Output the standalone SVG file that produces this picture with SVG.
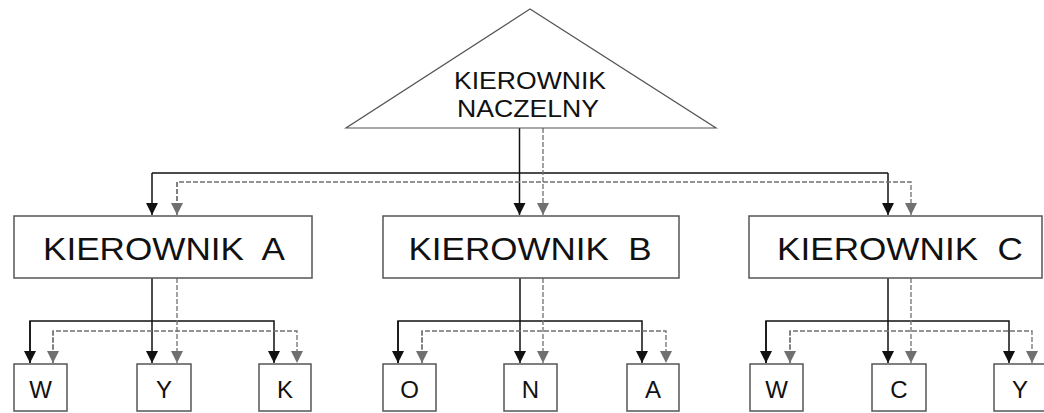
<svg xmlns="http://www.w3.org/2000/svg" width="1044" height="413" viewBox="0 0 1044 413">
  <style>
    .node { fill: #ffffff; stroke: #555555; stroke-width: 1.5; }
    .big { font-family: "Liberation Sans", Arial, sans-serif; font-size: 32px; fill: #111111; text-anchor: middle; white-space: pre; }
    .top { font-family: "Liberation Sans", Arial, sans-serif; font-size: 24px; fill: #111111; text-anchor: middle; }
    .small { font-family: "Liberation Sans", Arial, sans-serif; font-size: 24px; fill: #111111; text-anchor: middle; }
    .solid { fill: none; stroke: #111111; stroke-width: 1.5; }
    .dash { fill: none; stroke: #707070; stroke-width: 1.3; stroke-dasharray: 5 2; }
  </style>
  <defs>
    <marker id="arrowBlack" markerUnits="userSpaceOnUse" markerWidth="14" markerHeight="14" refX="12" refY="6" orient="auto">
      <path d="M0,0 L12,6 L0,12 Z" fill="#111111"/>
    </marker>
    <marker id="arrowGray" markerUnits="userSpaceOnUse" markerWidth="14" markerHeight="14" refX="12" refY="6" orient="auto">
      <path d="M0,0 L12,6 L0,12 Z" fill="#707070"/>
    </marker>
  </defs>

  <rect width="1044" height="413" fill="#ffffff"/>

  <!-- connectors -->
  <g id="connectors">
    <!-- top level: chief to managers -->
    <path class="solid" d="M519.5,128 V215" marker-end="url(#arrowBlack)"/>
    <path class="solid" d="M152,173 H888"/>
    <path class="solid" d="M152,173 V215" marker-end="url(#arrowBlack)"/>
    <path class="solid" d="M888,173 V215" marker-end="url(#arrowBlack)"/>
    <path class="dash" d="M543,128 V215" marker-end="url(#arrowGray)"/>
    <path class="dash" d="M177,215 V182 H911 V215" marker-end="url(#arrowGray)"/>
    <path class="dash" d="M177,182 V215" marker-end="url(#arrowGray)"/>

    <!-- manager A to W, Y, K -->
    <path class="solid" d="M152,278 V363" marker-end="url(#arrowBlack)"/>
    <path class="solid" d="M30,363 V321 H274 V363" marker-end="url(#arrowBlack)"/>
    <path class="solid" d="M30,321 V363" marker-end="url(#arrowBlack)"/>
    <path class="dash" d="M177,278 V363" marker-end="url(#arrowGray)"/>
    <path class="dash" d="M53,363 V331 H297 V363" marker-end="url(#arrowGray)"/>
    <path class="dash" d="M53,331 V363" marker-end="url(#arrowGray)"/>

    <!-- manager B to O, N, A -->
    <path class="solid" d="M520,278 V363" marker-end="url(#arrowBlack)"/>
    <path class="solid" d="M398,363 V321 H642 V363" marker-end="url(#arrowBlack)"/>
    <path class="solid" d="M398,321 V363" marker-end="url(#arrowBlack)"/>
    <path class="dash" d="M543,278 V363" marker-end="url(#arrowGray)"/>
    <path class="dash" d="M422,363 V331 H666 V363" marker-end="url(#arrowGray)"/>
    <path class="dash" d="M422,331 V363" marker-end="url(#arrowGray)"/>

    <!-- manager C to W, C, Y -->
    <path class="solid" d="M888,278 V363" marker-end="url(#arrowBlack)"/>
    <path class="solid" d="M766,363 V321 H1009 V363" marker-end="url(#arrowBlack)"/>
    <path class="solid" d="M766,321 V363" marker-end="url(#arrowBlack)"/>
    <path class="dash" d="M911,278 V363" marker-end="url(#arrowGray)"/>
    <path class="dash" d="M790,363 V331 H1032 V363" marker-end="url(#arrowGray)"/>
    <path class="dash" d="M790,331 V363" marker-end="url(#arrowGray)"/>
  </g>

  <!-- chief -->
  <g id="chief">
    <polygon points="530,9 346,128 716,128" fill="#ffffff" stroke="#555555" stroke-width="1.2"/>
    <text class="top" x="530" y="89" textLength="152" lengthAdjust="spacingAndGlyphs">KIEROWNIK</text>
    <text class="top" x="528" y="117" textLength="142" lengthAdjust="spacingAndGlyphs">NACZELNY</text>
  </g>

  <!-- managers -->
  <g id="manager-a">
    <rect class="node" x="14" y="216" width="298" height="62"/>
    <text class="big" x="164" y="260" xml:space="preserve" textLength="242" lengthAdjust="spacingAndGlyphs">KIEROWNIK  A</text>
  </g>
  <g id="manager-b">
    <rect class="node" x="383" y="216" width="296" height="62"/>
    <text class="big" x="530" y="260" xml:space="preserve" textLength="243" lengthAdjust="spacingAndGlyphs">KIEROWNIK  B</text>
  </g>
  <g id="manager-c">
    <rect class="node" x="749" y="216" width="293" height="62"/>
    <text class="big" x="900" y="260" xml:space="preserve" textLength="246" lengthAdjust="spacingAndGlyphs">KIEROWNIK  C</text>
  </g>

  <!-- team A -->
  <g id="a-w">
    <rect class="node" x="14" y="364" width="53" height="47"/>
    <text class="small" x="40.5" y="398">W</text>
  </g>
  <g id="a-y">
    <rect class="node" x="137" y="364" width="54" height="47"/>
    <text class="small" x="164" y="398">Y</text>
  </g>
  <g id="a-k">
    <rect class="node" x="259" y="364" width="52" height="47"/>
    <text class="small" x="285" y="398">K</text>
  </g>

  <!-- team B -->
  <g id="b-o">
    <rect class="node" x="383" y="364" width="53" height="47"/>
    <text class="small" x="409.5" y="398">O</text>
  </g>
  <g id="b-n">
    <rect class="node" x="504" y="364" width="53" height="47"/>
    <text class="small" x="530.5" y="398">N</text>
  </g>
  <g id="b-a">
    <rect class="node" x="627" y="364" width="52" height="47"/>
    <text class="small" x="653" y="398">A</text>
  </g>

  <!-- team C -->
  <g id="c-w">
    <rect class="node" x="750" y="364" width="53" height="47"/>
    <text class="small" x="776.5" y="398">W</text>
  </g>
  <g id="c-c">
    <rect class="node" x="872" y="364" width="54" height="47"/>
    <text class="small" x="899" y="398">C</text>
  </g>
  <g id="c-y">
    <rect class="node" x="994" y="364" width="52" height="47"/>
    <text class="small" x="1020" y="398">Y</text>
  </g>
</svg>
